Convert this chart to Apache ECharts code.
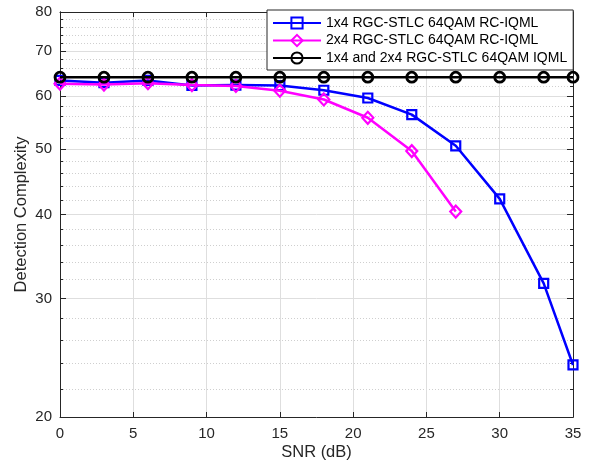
<!DOCTYPE html>
<html>
<head>
<meta charset="utf-8">
<script src="https://cdn.jsdelivr.net/npm/echarts@6/dist/echarts.min.js"></script>
<style>
  html, body { margin: 0; padding: 0; background: #fff; }
  #chart { width: 593px; height: 467px; }
</style>
</head>
<body>
<div id="chart"></div>
<script>
  // SNR points (dB)
  const snrLong = [0, 3, 6, 9, 12, 15, 18, 21, 24, 27, 30, 33, 35]
  const snrShort = [0, 3, 6, 9, 12, 15, 18, 21, 24, 27]
  // detection complexity values
  const rcIqml1x4 = [63.3, 62.8, 63.3, 62.2, 62.3, 62.2, 61.2, 59.6, 56.3, 50.6, 42.2, 31.6, 23.9]
  const rcIqml2x4 = [62.6, 62.4, 62.7, 62.3, 62.1, 61.1, 59.3, 55.7, 49.7, 40.4]
  const iqml = [64, 64, 64, 64, 64, 64, 64, 64, 64, 64, 64, 64, 64]
  // y axis ticks (log scale)
  const yMajor = [20, 30, 40, 50, 60, 70, 80]
  const yMinor = [22, 24, 26, 28, 32, 34, 36, 38, 42, 44, 46, 48, 52, 54, 56, 58, 62, 64, 66, 68, 72, 74, 76, 78]

  const font = '"Liberation Sans", Arial, Helvetica, sans-serif'
  const axisColor = '#262626'
  const lg = v => Math.log10(v)
  const yMin = lg(20)
  const yMax = lg(80)

  const pairs = (xs, ys) => xs.map((x, i) => [x, lg(ys[i])])

  function yAxisDef(side, values, tickLen, split, labels) {
    return {
      type: 'value',
      position: side,
      min: yMin,
      max: yMax,
      axisLine: { show: true, lineStyle: { color: axisColor, width: 1 } },
      axisTick: { show: true, inside: true, length: tickLen, customValues: values, lineStyle: { color: axisColor } },
      axisLabel: {
        show: labels,
        customValues: values,
        margin: 8,
        color: axisColor,
        fontSize: 15,
        fontFamily: font,
        formatter: v => Math.round(Math.pow(10, v))
      },
      splitLine: split
    }
  }

  const chart = echarts.init(document.getElementById('chart'))
  chart.setOption({
    animation: false,
    backgroundColor: '#fff',
    textStyle: { fontFamily: font },
    grid: { left: 60, right: 20, top: 12, bottom: 50 },
    legend: {
      orient: 'vertical',
      left: 267,
      top: 10,
      padding: [6, 6, 5, 5],
      itemGap: 3.5,
      itemWidth: 48,
      itemHeight: 14,
      backgroundColor: '#fff',
      borderColor: axisColor,
      borderWidth: 1,
      textStyle: { color: '#000', fontSize: 14, fontFamily: font },
      data: ['1x4 RGC-STLC 64QAM RC-IQML', '2x4 RGC-STLC 64QAM RC-IQML', '1x4 and 2x4 RGC-STLC 64QAM IQML']
    },
    xAxis: [
      {
        type: 'value',
        min: 0,
        max: 35,
        interval: 5,
        name: 'SNR (dB)',
        nameLocation: 'middle',
        nameGap: 27,
        nameMoveOverlap: false,
        nameTextStyle: { color: axisColor, fontSize: 16.5, fontFamily: font },
        axisLine: { show: true, lineStyle: { color: axisColor, width: 1 } },
        axisTick: { inside: true, length: 5, lineStyle: { color: axisColor } },
        axisLabel: { margin: 9, color: axisColor, fontSize: 15, fontFamily: font },
        splitLine: { show: true, lineStyle: { color: '#dedede', width: 1 } }
      },
      {
        type: 'value',
        position: 'top',
        min: 0,
        max: 35,
        interval: 5,
        axisLine: { show: true, lineStyle: { color: axisColor, width: 1 } },
        axisTick: { inside: true, length: 5, lineStyle: { color: axisColor } },
        axisLabel: { show: false },
        splitLine: { show: false }
      }
    ],
    yAxis: [
      Object.assign(yAxisDef('left', yMajor.map(lg), 6, { show: true, lineStyle: { color: '#dedede', width: 1 } }, true), {
        name: 'Detection Complexity',
        nameLocation: 'middle',
        nameGap: 30,
        nameMoveOverlap: false,
        nameTextStyle: { color: axisColor, fontSize: 16.5, fontFamily: font }
      }),
      yAxisDef('left', yMinor.map(lg), 3, { show: true, lineStyle: { color: '#cfcfcf', width: 1, type: [1, 2] } }, false),
      yAxisDef('right', yMajor.map(lg), 6, { show: false }, false),
      yAxisDef('right', yMinor.map(lg), 3, { show: false }, false)
    ],
    series: [
      {
        name: '1x4 RGC-STLC 64QAM RC-IQML',
        type: 'line',
        data: pairs(snrLong, rcIqml1x4),
        symbol: 'rect',
        symbolSize: 9,
        clip: false,
        z: 3,
        lineStyle: { color: '#0000ff', width: 2.5 },
        itemStyle: { color: 'rgba(0,0,0,0)', borderColor: '#0000ff', borderWidth: 2.2 }
      },
      {
        name: '2x4 RGC-STLC 64QAM RC-IQML',
        type: 'line',
        data: pairs(snrShort, rcIqml2x4),
        symbol: 'diamond',
        symbolSize: [11, 12],
        clip: false,
        z: 4,
        lineStyle: { color: '#ff00ff', width: 2.5 },
        itemStyle: { color: 'rgba(0,0,0,0)', borderColor: '#ff00ff', borderWidth: 2.2 }
      },
      {
        name: '1x4 and 2x4 RGC-STLC 64QAM IQML',
        type: 'line',
        data: pairs(snrLong, iqml),
        symbol: 'circle',
        symbolSize: 10,
        clip: false,
        z: 5,
        lineStyle: { color: '#000', width: 2.5 },
        itemStyle: { color: 'rgba(0,0,0,0)', borderColor: '#000', borderWidth: 2.8 }
      }
    ]
  })
</script>
</body>
</html>
